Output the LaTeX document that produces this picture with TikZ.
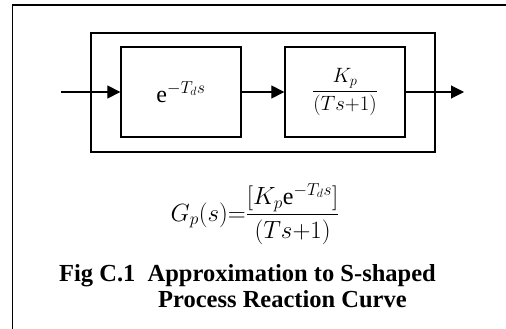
\documentclass[tikz,border=0pt]{standalone}
\usepackage{fontspec}
\setmainfont{Liberation Serif}
\usepackage{amsmath}
\usepackage{tikz}
\usetikzlibrary{arrows.meta, positioning}

\begin{document}
\begin{tikzpicture}[
  x=1pt, y=-1pt,
  every node/.style={font=\fontsize{22}{26}\selectfont},
  blockbox/.style={draw, line width=1.3pt, minimum width=120pt, minimum height=90pt, inner sep=0pt},
  arr/.style={-{Triangle[length=13pt, width=13pt]}, line width=1.1pt},
  capline/.style={anchor=base west, inner sep=0pt, font=\fontsize{24.5}{28}\selectfont\bfseries},
]
  \useasboundingbox (0,0) rectangle (506,329);

  % frame of the figure
  \draw[line width=1.5pt] (506,5) -- (12.5,5) -- (12.5,329);

  % process blocks
  \node[draw, line width=1.3pt, minimum width=344pt, minimum height=119pt, inner sep=0pt] (plant) at (263,92.5) {};
  \node[blockbox, font=\fontsize{24}{28}\selectfont] (delay) at (181,92) {$\mathrm{e}^{-T_d s}$};
  \node[blockbox] (lag) at (345,92) {$\dfrac{K_p}{(Ts{+}1)}$};
  \coordinate (in) at (61,92);
  \coordinate (out) at (464,92);

  % signal flow
  \draw[arr] (in) -- (delay);
  \draw[arr] (delay) -- (lag);
  \draw[arr] (lag) -- (out);

  % transfer function
  \node[font=\fontsize{24}{28}\selectfont] (tf) at (255,214)
       {$G_p(s){=}\dfrac{[K_p \mathrm{e}^{-T_d s}]}{(Ts{+}1)}$};

  % Caption
  \node[capline] (cap1) at (59,281) {Fig C.1\ \ Approximation to S-shaped};
  \node[capline] (cap2) at (158,307) {Process Reaction Curve};
\end{tikzpicture}
\end{document}
